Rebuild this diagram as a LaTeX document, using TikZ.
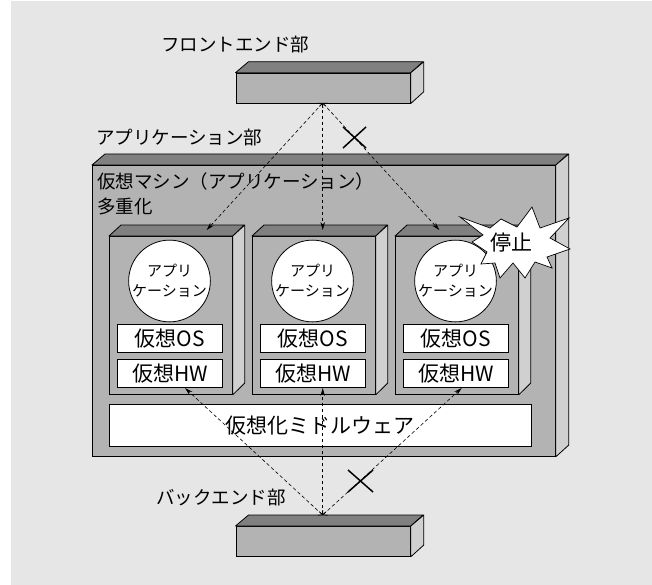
\documentclass[tikz,border=0pt]{standalone}
\usepackage{fontspec}
\setmainfont{Noto Sans CJK JP}
\usetikzlibrary{arrows.meta}
\definecolor{bgc}{HTML}{E6E6E6}
\definecolor{frontc}{HTML}{B3B3B3}
\definecolor{topc}{HTML}{808080}
\definecolor{sidec}{HTML}{D0D0D0}
\newcommand\mycuboid[6]{%
 \node[frontface, minimum width=#4pt, minimum height=#5pt, anchor=north west] (#1) at (#2,#3) {};
 \filldraw[topface] (#1.north west) -- ++(#6,-11) -- ++(#4,0) -- (#1.north east) -- cycle;
 \filldraw[sideface] (#1.north east) -- ++(#6,-11) -- ++(0,#5) -- (#1.south east) -- cycle;
}
\begin{document}
\begin{tikzpicture}[x=1pt,y=-1pt,
  frontface/.style={draw=black, fill=frontc, line width=0.8pt, inner sep=0pt, rectangle},
  topface/.style={draw=black, fill=topc, line width=0.8pt, line join=round},
  sideface/.style={draw=black, fill=sidec, line width=0.8pt, line join=round},
  whitebox/.style={draw=black, fill=white, line width=0.8pt, inner sep=0pt, rectangle, font=\fontsize{21}{24}\selectfont},
  appcircle/.style={circle, draw=black, fill=white, line width=0.8pt, minimum size=76pt, inner sep=0pt, align=center, font=\fontsize{15}{20}\selectfont},
  lab/.style={inner sep=0pt, font=\fontsize{18.5}{25}\selectfont},
  link/.style={dash pattern=on 3.5pt off 2.5pt, line width=0.6pt, {Straight Barb[length=3pt,width=7pt]}-{Stealth[length=8pt,width=4.5pt]}},
  xmark/.style={line width=1.5pt}
]
\useasboundingbox (0,0) rectangle (652,585);
\fill[bgc] (11,1) rectangle (652,585);

% labels
\node[lab] (lfront) at (235,45) {フロントエンド部};
\node[lab, anchor=west] (lapp) at (96,138) {アプリケーション部};
\node[lab] (lback) at (221,498) {バックエンド部};

% front / back end boxes
\mycuboid{front}{235.5}{72.7}{174.5}{30}{13}
\mycuboid{back}{235.5}{526}{174.5}{30}{13}

% application part
\mycuboid{appbox}{92}{165}{463}{291}{13}
\node[lab, anchor=north west, align=left] (vmlabel) at (97,172) {仮想マシン（アプリケーション）\\多重化};

% VMs
\foreach \i/\x in {1/109,2/252,3/395}{
  \mycuboid{vm\i}{\x}{236}{123}{158}{12}
  \node[appcircle] (app\i) at (\x+60.5,281) {アプリ\\ケーション};
  \node[whitebox, minimum width=105pt, minimum height=28pt, anchor=north west] (os\i) at (\x+8,324) {仮想OS};
  \node[whitebox, minimum width=105pt, minimum height=28pt, anchor=north west] (hw\i) at (\x+8,359) {仮想HW};
}

% middleware
\node[whitebox, minimum width=422pt, minimum height=42pt, anchor=north west] (mw) at (109,404) {仮想化ミドルウェア};

% connectors
\coordinate (ftop) at (322.7,103);
\coordinate (bbot) at (322.7,515);
\coordinate (t1) at (206.7,230);
\coordinate (t2) at (322.7,230);
\coordinate (t3) at (439.3,230);
\coordinate (b1) at (185,388);
\coordinate (b2) at (322.7,388);
\coordinate (b3) at (461.7,388);
\foreach \k in {1,2,3}{
  \draw[link] (ftop) -- (t\k);
  \draw[link] (bbot) -- (b\k);
}

% X marks
\draw[xmark] (343,127) -- (366,148) (366,127) -- (343,148);
\draw[xmark] (348,470) -- (373,492) (373,470) -- (348,492);

% stop burst
\filldraw[fill=white, draw=black, line width=0.7pt, line join=miter]
  (460,217) -- (490,228) -- (501,219) -- (517,227) -- (532,207) -- (540,228)
  -- (569,218) -- (550,238) -- (570,249) -- (547,257) -- (552,268) -- (535,262)
  -- (525,278) -- (513,263) -- (500,278) -- (495,263) -- (481,264) -- (487,252)
  -- (472,242) -- (483,235) -- cycle;
\node[inner sep=0pt, font=\fontsize{21}{24}\selectfont] (stop) at (511,243) {停止};
\end{tikzpicture}
\end{document}
